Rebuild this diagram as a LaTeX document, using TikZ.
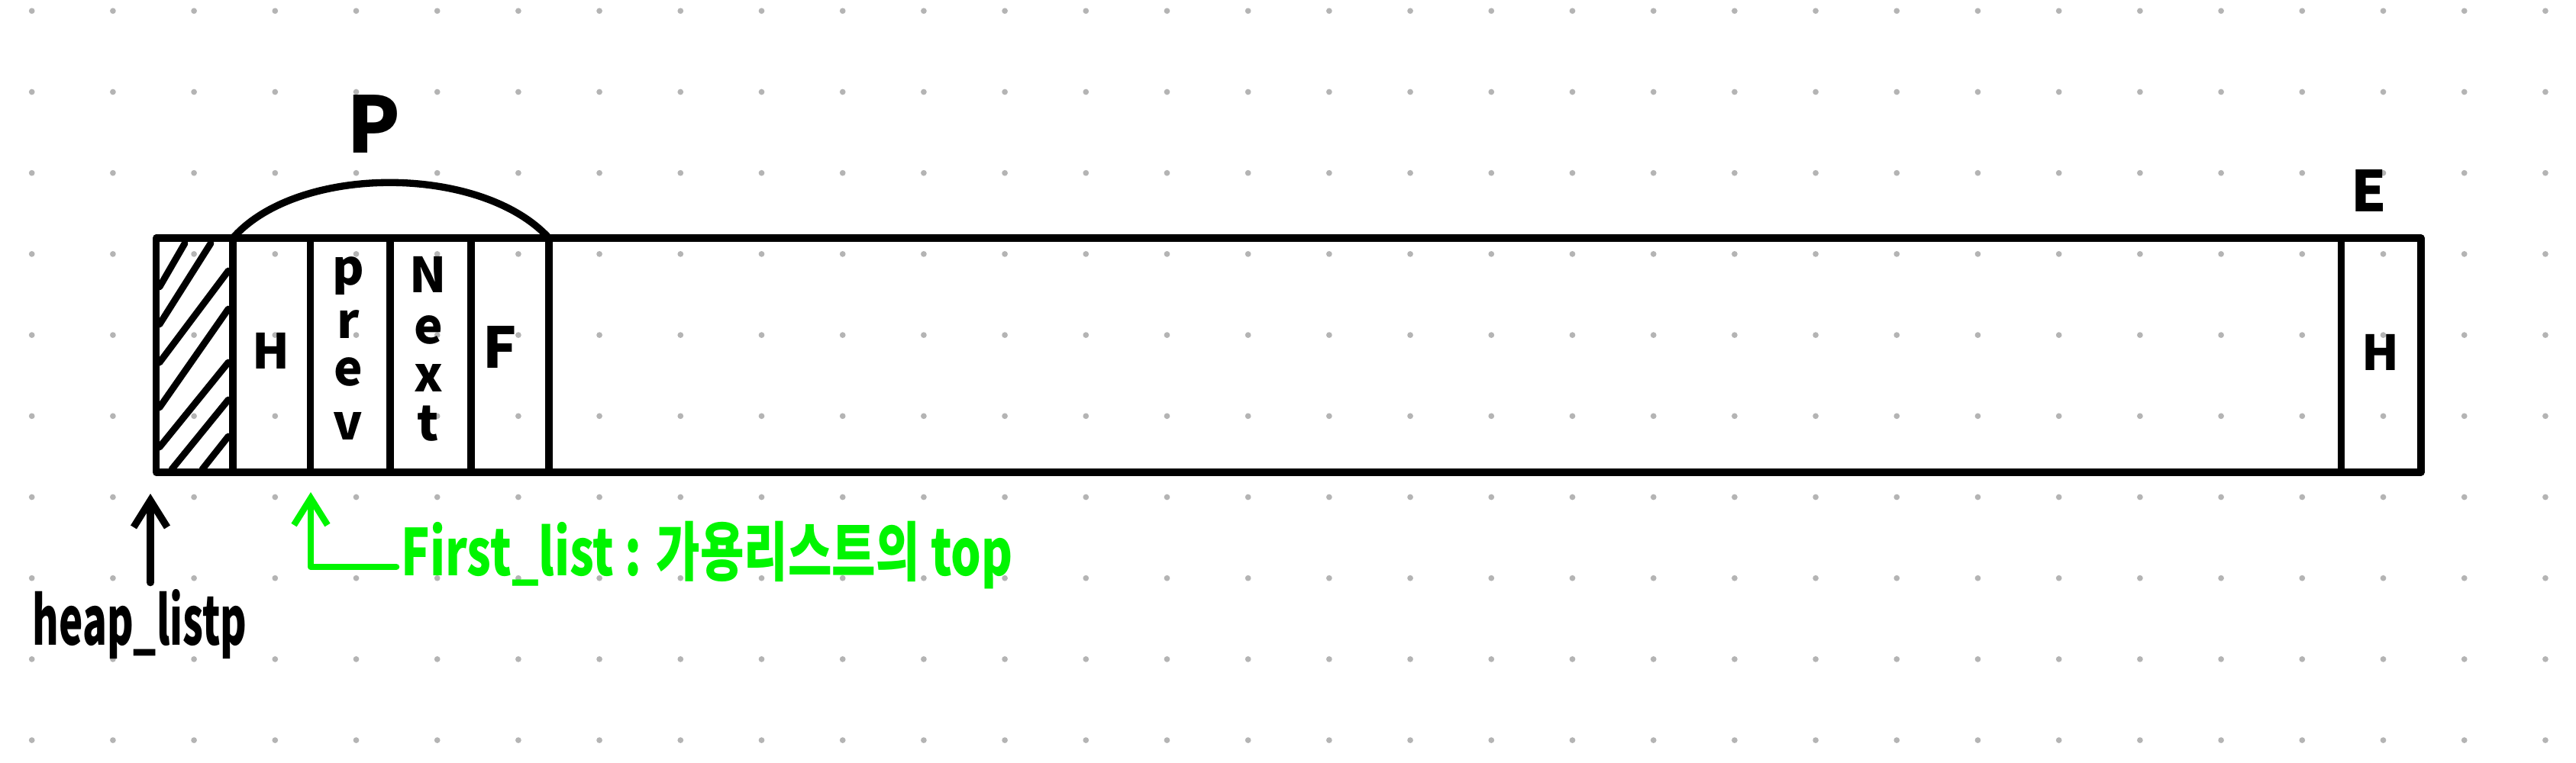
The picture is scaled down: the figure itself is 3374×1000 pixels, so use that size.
\documentclass[tikz,border=0pt]{standalone}
\usepackage{fontspec}
\usepackage{graphicx}
\setmainfont{Noto Sans CJK KR}
\usetikzlibrary{arrows.meta}
\definecolor{hgreen}{RGB}{0,245,0}
\definecolor{dotgray}{RGB}{180,180,180}
\tikzset{
  ink/.style={line width=2.65pt, black},
  hatchline/.style={line width=2.5pt, black},
  gink/.style={line width=2.4pt, hgreen},
  uparrow/.style={-{Straight Barb[length=10pt,width=12.5pt]}},
  lbl/.style={inner sep=0pt},
  letter/.style={inner sep=0pt,font=\fontsize{18}{19}\selectfont\bfseries},
}
\begin{document}
\begin{tikzpicture}[x=0.01cm,y=-0.01cm,line cap=round,line join=round]
\useasboundingbox (0,0) rectangle (3374,1000);
% dot grid
\foreach \i in {0,...,31}{
  \foreach \j in {0,...,9}{
    \fill[dotgray] (41.7+106.2*\i,14.3+106.2*\j) circle (1.1pt);
  }
}
% main strip
\draw[ink] (204.7,312) rectangle (3171,619);
\foreach \xx in {305,406.4,510.9,616.9,719.1,3066.7}{
  \draw[ink] (\xx,312) -- (\xx,619);
}
% hatch in first cell
\draw[hatchline] (209,376) -- (242,319);
\draw[hatchline] (209,425) -- (276,319);
\draw[hatchline] (209,475) -- (299,355);
\draw[hatchline] (209,534) -- (299,405);
\draw[hatchline] (209,586) -- (299,475);
\draw[hatchline] (225,615) -- (299,524);
\draw[hatchline] (265,615) -- (299,572);
% arc over block p
\draw[ink] (305,312) .. controls (390,215) and (630,215) .. (719,312);
% labels
\node[lbl,font=\fontsize{29}{30}\selectfont\bfseries] (P) at (490,163) {P};
\node[lbl,font=\fontsize{21}{22}\selectfont\bfseries] (E) at (3103,250) {E};
\node[lbl,font=\fontsize{18}{20}\selectfont\bfseries] (H1) at (355,460) {H};
% prev stacked
\node[letter] (pv1) at (456,362) {p};
\node[letter] (pv2) at (456,425) {r};
\node[letter] (pv3) at (456,487) {e};
\node[letter] (pv4) at (456,558) {v};
% Next stacked
\node[letter] (nx1) at (561,360) {N};
\node[letter] (nx2) at (561,432) {e};
\node[letter] (nx3) at (561,495) {x};
\node[letter] (nx4) at (561,555) {t};
\node[lbl,font=\fontsize{21}{22}\selectfont\bfseries] (F) at (655,455) {F};
\node[lbl,font=\fontsize{18}{20}\selectfont\bfseries] (H2) at (3118,462) {H};
\node[lbl,font=\fontsize{25}{26}\selectfont\bfseries] (heap) at (183,818) {\scalebox{0.6}[1]{heap\_listp}};
\node[lbl,font=\fontsize{24}{26}\selectfont\bfseries,text=hgreen,anchor=west] (fl) at (525,728) {\scalebox{0.74}[1]{First\_list : 가용리스트의 top}};
% arrows
\coordinate (hptip) at (197,647);
\coordinate (gtip) at (407,645);
\coordinate (gstart) at (519,743);
\draw[ink,uparrow] (hptip |- heap.north) ++(0,-8) -- (hptip);
\draw[gink,uparrow] (gstart) -| (gtip);
\end{tikzpicture}
\end{document}
